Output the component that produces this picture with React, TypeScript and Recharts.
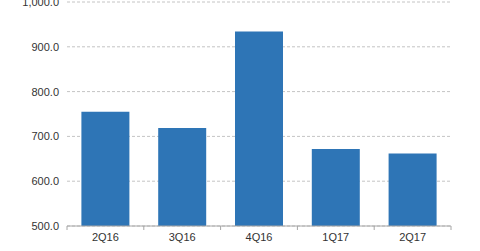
import { BarChart, Bar, XAxis, YAxis, CartesianGrid } from "recharts";

const quarters = ["2Q16", "3Q16", "4Q16", "1Q17", "2Q17"];
const values = [755, 719, 934, 672, 662];
const yTicks = [500, 600, 700, 800, 900, 1000];

const data = quarters.map((q, i) => ({ quarter: q, value: values[i] }));

const BAND = 384 / quarters.length;

// label at band centre, small marks on the band edges
function QuarterTick(props: any) {
  const { x, y, payload, index } = props;
  const half = BAND / 2;
  return (
    <g>
      <line x1={x - half} x2={x - half} y1={y} y2={y + 4} stroke="#a6a6a6" />
      {index === quarters.length - 1 && (
        <line x1={x + half} x2={x + half} y1={y} y2={y + 4} stroke="#a6a6a6" />
      )}
      <text x={x} y={y + 15} textAnchor="middle" fill="#333" fontSize={11}>
        {payload.value}
      </text>
    </g>
  );
}

// use the scale coordinate directly so the top label sits on its gridline
function ValueTick(props: any) {
  const { x, payload } = props;
  const label = payload.value.toLocaleString("en-US", {
    minimumFractionDigits: 1,
    maximumFractionDigits: 1,
  });
  return (
    <text x={x} y={payload.coordinate} dy={4} textAnchor="end" fill="#333" fontSize={11}>
      {label}
    </text>
  );
}

export default function App() {
  return (
    <div
      style={{
        position: "absolute",
        left: 0,
        top: 0,
        fontFamily: '"Liberation Sans", Arial, sans-serif',
        background: "#fff",
      }}
    >
      <BarChart
        width={480}
        height={251}
        data={data}
        margin={{ top: 2, right: 29, left: 0, bottom: 0 }}
        barCategoryGap="18.75%"
      >
        <CartesianGrid vertical={false} stroke="#c4c4c4" strokeDasharray="3 2" />
        <XAxis
          dataKey="quarter"
          height={25}
          stroke="#a6a6a6"
          tickLine={false}
          tickSize={0}
          tickMargin={0}
          tick={<QuarterTick />}
          interval={0}
        />
        <YAxis
          width={67}
          domain={[500, 1000]}
          ticks={yTicks}
          axisLine={false}
          tickLine={false}
          tick={<ValueTick />}
          allowDataOverflow
        />
        <Bar dataKey="value" fill="#2e75b6" isAnimationActive={false} />
      </BarChart>
    </div>
  );
}
